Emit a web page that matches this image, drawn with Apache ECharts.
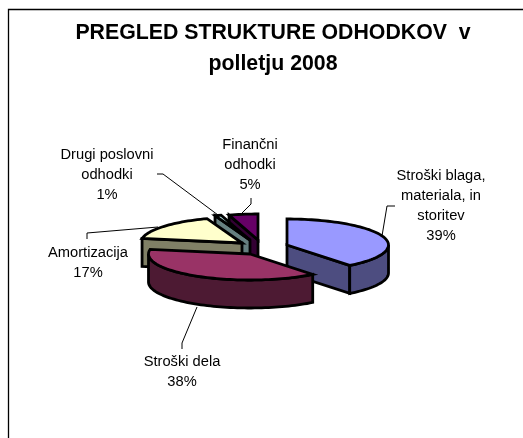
<!DOCTYPE html>
<html><head><meta charset="utf-8">
<style>html,body{margin:0;padding:0;background:#fff}#c{width:523px;height:438px}</style>
<script src="https://cdn.jsdelivr.net/npm/echarts@6/dist/echarts.min.js"></script>
</head><body><div id="c"></div>
<script>
const titleText = "PREGLED STRUKTURE ODHODKOV  v\npolletju 2008";
const categories = ["Stroški blaga,\nmateriala, in\nstoritev", "Stroški dela", "Amortizacija", "Drugi poslovni\nodhodki", "Finančni\nodhodki"];
const values = [39.4, 38.4, 16.6, 1, 4.6];

const topColors = ["#9999FF", "#993366", "#FFFFCC", "#CCFFFF", "#660066"];
const sideColors = ["#4D4D80", "#4D1A33", "#808066", "#668080", "#330033"];
const apexes = [[287, 245], [250, 254], [242, 243], [250, 240], [258, 240]];
const layers = [3, 4, 3, 2, 1];
const labelPos = [[441, 205.5], [182, 371.5], [88, 262.5], [107, 175], [250, 165]];
const leaders = [
  [[382, 236], [387, 206], [395, 206]],
  [[197, 307], [182, 343], [182, 349]],
  [[158, 227], [87, 233], [87, 239]],
  [[218, 215], [163, 174], [157, 174]],
  [[242, 213], [251, 204], [251, 198]]
];
const RX = 101.5, RY = 26, DEPTH = 28;
const total = values.reduce((a, b) => a + b, 0);
const pt = (c, deg, dy) => {
  const r = deg * Math.PI / 180;
  return [c[0] + RX * Math.sin(r), c[1] - RY * Math.cos(r) + (dy || 0)];
};
const arc = (c, a, b, dy) => {
  const out = [];
  const n = Math.max(2, Math.ceil(Math.abs(b - a) / 2));
  for (let i = 0; i <= n; i++) out.push(pt(c, a + (b - a) * i / n, dy));
  return out;
};
const chart = echarts.init(document.getElementById('c'), null, {renderer: 'canvas'});
chart.setOption({
  animation: false,
  backgroundColor: '#fff',
  title: {
    text: titleText, left: 268, top: 13, textAlign: 'center',
    textStyle: {fontFamily: 'Liberation Sans', fontSize: 21.3, fontWeight: 'bold', color: '#000', lineHeight: 31}
  },
  graphic: [{type: 'polyline', silent: true, shape: {points: [[8.5, 438], [8.5, 9.5], [523, 9.5]]},
    style: {stroke: '#000', lineWidth: 1.3, fill: null}}],
  series: [{
    type: 'custom', coordinateSystem: 'none', data: values,
    renderItem(params, api) {
      const i = params.dataIndex, c = apexes[i];
      let start = 0;
      for (let k = 0; k < i; k++) start += values[k];
      const a = start / total * 360, b = (start + values[i]) / total * 360;
      const base = layers[i] * 10;
      const children = [];
      const poly = (points, fill, z) => children.push({type: 'polygon', z2: base + z, shape: {points},
        style: {fill, stroke: '#000', lineWidth: 2.8, lineJoin: 'miter'}});
      const wall = (deg) => poly([c, pt(c, deg), pt(c, deg, DEPTH), [c[0], c[1] + DEPTH]], sideColors[i], 0);
      if (Math.sin(a * Math.PI / 180) < -1e-6) wall(a);
      if (Math.sin(b * Math.PI / 180) > 1e-6) wall(b);
      const oa = Math.max(a, 90), ob = Math.min(b, 270);
      if (ob > oa) poly(arc(c, oa, ob, 0).concat(arc(c, ob, oa, DEPTH)), sideColors[i], 1);
      poly([c].concat(arc(c, a, b, 0)), topColors[i], 2);
      children.push({type: 'polyline', z2: 90, shape: {points: leaders[i]}, style: {stroke: '#000', lineWidth: 1, fill: null}});
      children.push({type: 'text', z2: 100, style: {
        text: categories[i] + "\n" + Math.round(values[i] / total * 100) + "%",
        x: labelPos[i][0], y: labelPos[i][1], align: 'center', verticalAlign: 'middle',
        fontFamily: 'Liberation Sans', fontSize: 14.7, lineHeight: 20, fill: '#000'}});
      return {type: 'group', children};
    }
  }]
});
</script></body></html>
